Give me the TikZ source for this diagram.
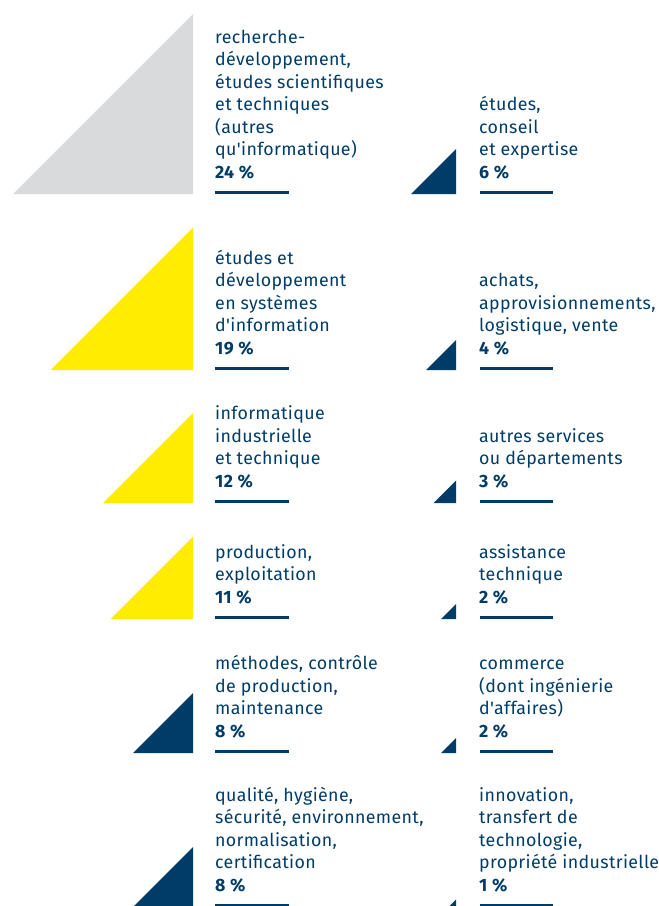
\documentclass[tikz,border=0pt]{standalone}
\usepackage{fontspec}
\usepackage{xcolor}
\usepackage{tikz}
\newfontfamily\lblfont{Fira Sans}[LetterSpace=2.0]
\definecolor{navy}{RGB}{0,60,103}
\definecolor{sunyellow}{RGB}{255,236,0}
\definecolor{palegray}{RGB}{217,218,220}

\begin{document}
\begin{tikzpicture}[line join=round,x=1.0pt,y=-1.0pt,
    lbl/.style={anchor=south west,inner sep=0pt,align=left,text=navy,
      font=\lblfont\fontsize{17.8}{22.5}\selectfont},
    uline/.style={draw=navy,line width=3pt}]
			\useasboundingbox (0,0) rectangle (659,906);
			\clip (0,0) rectangle (659,906);
			% left column
			\fill [palegray] (193,194) -- ++(-180,0) -- ++(180,-180) -- cycle;
			\fill [sunyellow] (193,370) -- ++(-142.5,0) -- ++(142.5,-142.5) -- cycle;
			\fill [sunyellow] (193,503) -- ++(-90,0) -- ++(90,-90) -- cycle;
			\fill [sunyellow] (193,619) -- ++(-82.5,0) -- ++(82.5,-82.5) -- cycle;
			\fill [navy] (193,753) -- ++(-60,0) -- ++(60,-60) -- cycle;
			\fill [navy] (193,907) -- ++(-60,0) -- ++(60,-60) -- cycle;
			\node [lbl] (recherche) at (215,179) {recherche-\\d\'eveloppement,\\\'etudes scientifiques\\et techniques\\(autres\\qu'informatique)\\\textbf{24 \%}};
			\node [lbl] (etudesSI) at (215,355) {\'etudes et\\d\'eveloppement\\en syst\`emes\\d'information\\\textbf{19 \%}};
			\node [lbl] (infoIndus) at (215,488) {informatique\\industrielle\\et technique\\\textbf{12 \%}};
			\node [lbl] (production) at (215,604) {production,\\exploitation\\\textbf{11 \%}};
			\node [lbl] (methodes) at (215,738) {m\'ethodes, contr\^ole\\de production,\\maintenance\\\textbf{8 \%}};
			\node [lbl] (qualite) at (215,892) {qualit\'e, hygi\`ene,\\s\'ecurit\'e, environnement,\\normalisation,\\certification\\\textbf{8 \%}};
			\draw [uline] (215,192.5) -- (289,192.5);
			\draw [uline] (215,368.5) -- (289,368.5);
			\draw [uline] (215,501.5) -- (289,501.5);
			\draw [uline] (215,617.5) -- (289,617.5);
			\draw [uline] (215,751.5) -- (289,751.5);
			\draw [uline] (215,905.5) -- (289,905.5);
			% right column
			\fill [navy] (456,194) -- ++(-45,0) -- ++(45,-45) -- cycle;
			\fill [navy] (456,370) -- ++(-30,0) -- ++(30,-30) -- cycle;
			\fill [navy] (456,503) -- ++(-22.5,0) -- ++(22.5,-22.5) -- cycle;
			\fill [navy] (456,619) -- ++(-15,0) -- ++(15,-15) -- cycle;
			\fill [navy] (456,753) -- ++(-15,0) -- ++(15,-15) -- cycle;
			\fill [navy] (456,907) -- ++(-7.5,0) -- ++(7.5,-7.5) -- cycle;
			\node [lbl] (conseil) at (479,179) {\'etudes,\\conseil\\et expertise\\\textbf{6 \%}};
			\node [lbl] (achats) at (479,355) {achats,\\approvisionnements,\\logistique, vente\\\textbf{4 \%}};
			\node [lbl] (autres) at (479,488) {autres services\\ou d\'epartements\\\textbf{3 \%}};
			\node [lbl] (assistance) at (479,604) {assistance\\technique\\\textbf{2 \%}};
			\node [lbl] (commerce) at (479,738) {commerce\\(dont ing\'enierie\\d'affaires)\\\textbf{2 \%}};
			\node [lbl] (innovation) at (479,892) {innovation,\\transfert de\\technologie,\\propri\'et\'e industrielle\\\textbf{1 \%}};
			\draw [uline] (480,192.5) -- (553,192.5);
			\draw [uline] (480,368.5) -- (553,368.5);
			\draw [uline] (480,501.5) -- (553,501.5);
			\draw [uline] (480,617.5) -- (553,617.5);
			\draw [uline] (480,751.5) -- (553,751.5);
			\draw [uline] (480,905.5) -- (553,905.5);
\end{tikzpicture}
\end{document}
